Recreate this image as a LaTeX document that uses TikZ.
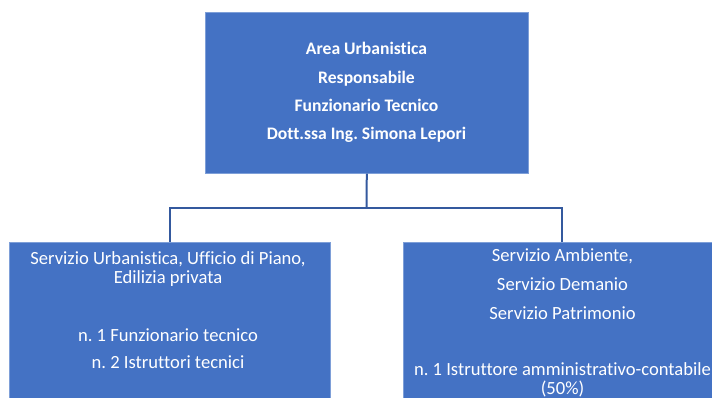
\documentclass[tikz,border=0pt]{standalone}
\usepackage{fontspec}
\setmainfont{Carlito}[Ligatures=NoCommon]
\frenchspacing
\definecolor{boxblue}{HTML}{4472C4}
\definecolor{boxedge}{HTML}{7E9FD8}
\definecolor{linkblue}{HTML}{34599E}
\tikzset{
  unit/.style={draw=boxedge, line width=0.6pt, fill=boxblue, inner sep=0pt},
  txt/.style={anchor=base, text=white, inner sep=0pt, font=\fontsize{18.6}{22}\selectfont},
  btxt/.style={txt, font=\fontsize{17.6}{21}\selectfont\bfseries},
  link/.style={draw=linkblue, line width=2pt}
}
\begin{document}
\begin{tikzpicture}[x=1pt, y=-1pt]
  \useasboundingbox (0,0) rectangle (712,398);
  \clip (0,0) rectangle (712,398);
  % boxes
  \node[unit, minimum width=323pt, minimum height=161pt, anchor=north west] (head) at (205,12) {};
  \node[unit, minimum width=321pt, minimum height=170pt, anchor=north west] (left) at (9,242) {};
  \node[unit, minimum width=318pt, minimum height=170pt, anchor=north west] (right) at (403,242) {};
  % connectors
  \coordinate (joint) at (366.5,208);
  \draw[link] (head.south) -- (joint);
  \draw[link] (joint) -| (left.north);
  \draw[link] (joint) -| (right.north);
  % head text
  \node[btxt] (h1) at (366.5,55) {Area Urbanistica};
  \node[btxt] (h2) at (366.5,83.5) {Responsabile};
  \node[btxt] (h3) at (366.5,111.7) {Funzionario Tecnico};
  \node[btxt] (h4) at (366.5,140) {Dott.ssa Ing. Simona Lepori};
  % left text
  \node[txt] (l1) at (168,264) {Servizio Urbanistica, Ufficio di Piano,};
  \node[txt] (l2) at (168,283.5) {Edilizia privata};
  \node[txt] (l3) at (168,341.7) {n. 1 Funzionario tecnico};
  \node[txt] (l4) at (168,368.3) {n. 2 Istruttori tecnici};
  % right text
  \node[txt] (r1) at (562.5,261) {Servizio Ambiente,};
  \node[txt] (r2) at (562.5,290) {Servizio Demanio};
  \node[txt] (r3) at (562.5,319.3) {Servizio Patrimonio};
  \node[txt] (r4) at (562.5,375.5) {n. 1 Istruttore amministrativo-contabile};
  \node[txt] (r5) at (562.5,394) {(50\%)};
\end{tikzpicture}
\end{document}
